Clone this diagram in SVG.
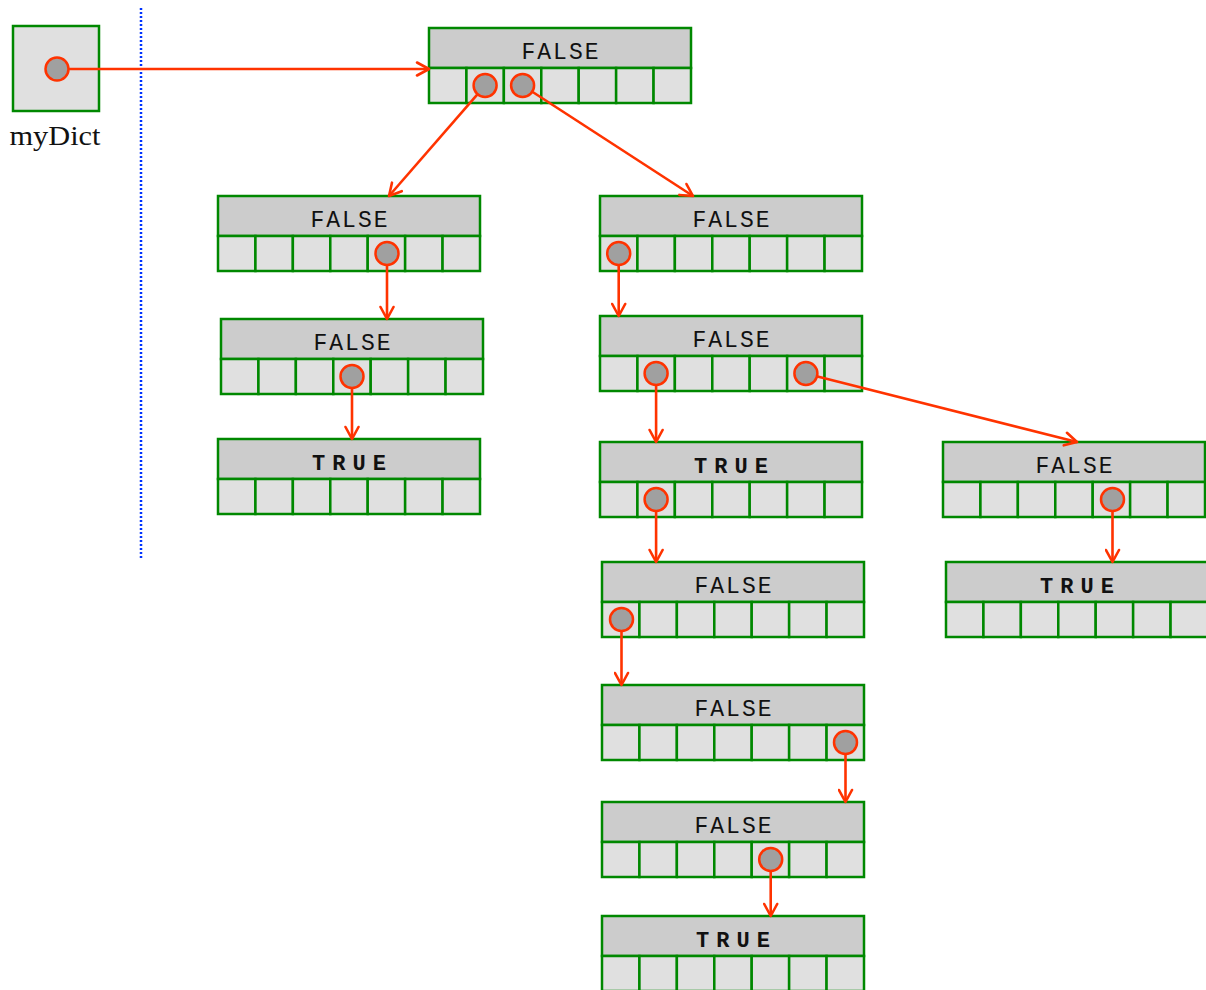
<svg xmlns="http://www.w3.org/2000/svg" xmlns:xlink="http://www.w3.org/1999/xlink" width="1206" height="990" viewBox="0 0 1206 990">
<style>
.hd{fill:#cccccc;stroke:#008800;stroke-width:2.5}
.cl{fill:#e0e0e0;stroke:#008800;stroke-width:2.5}
.pt{fill:#a0a0a0;stroke:#ff3300;stroke-width:2.5}
.f{font-family:"Liberation Mono","DejaVu Sans Mono",monospace;font-size:23px;letter-spacing:2px;fill:#111;text-anchor:middle}
.t{font-family:"Liberation Mono","DejaVu Sans Mono",monospace;font-size:22px;font-weight:bold;letter-spacing:7px;fill:#111;text-anchor:middle}
.lbl{font-family:"Liberation Serif","DejaVu Serif",serif;font-size:27px;fill:#111;text-anchor:middle}
.cn{fill:none;stroke:#ff3300;stroke-width:2.6;marker-end:url(#ah)}
</style>
<defs>
<marker id="ah" viewBox="-14 -8 16 16" refX="0" refY="0" markerWidth="16" markerHeight="16" markerUnits="userSpaceOnUse" orient="auto">
<path d="M-12,-6.5 L0,0 L-12,6.5" fill="none" stroke="#ff3300" stroke-width="2.6" stroke-linecap="round" stroke-linejoin="round"/>
</marker>
<g id="box">
<rect class="hd" x="0" y="0" width="262" height="40"/>
<rect class="cl" x="0" y="40" width="37.43" height="35"/>
<rect class="cl" x="37.43" y="40" width="37.43" height="35"/>
<rect class="cl" x="74.86" y="40" width="37.43" height="35"/>
<rect class="cl" x="112.29" y="40" width="37.43" height="35"/>
<rect class="cl" x="149.71" y="40" width="37.43" height="35"/>
<rect class="cl" x="187.14" y="40" width="37.43" height="35"/>
<rect class="cl" x="224.57" y="40" width="37.43" height="35"/>
</g>
</defs>
<rect width="1206" height="990" fill="#ffffff"/>

<g id="myDict">
<rect class="cl" x="13" y="26" width="86" height="85"/>
<circle class="pt" cx="57" cy="69" r="11.5"/>
<text class="lbl" x="55" y="145" textLength="91" lengthAdjust="spacingAndGlyphs">myDict</text>
</g>

<line id="divider" x1="141" y1="8" x2="141" y2="560" stroke="#0033ff" stroke-width="2.5" stroke-dasharray="2 2"/>

<g id="n0" transform="translate(429,28)"><use xlink:href="#box"/><text class="f" x="132" y="31">FALSE</text><circle class="pt" cx="56.1" cy="57.5" r="11.5"/><circle class="pt" cx="93.6" cy="57.5" r="11.5"/></g>
<g id="n1" transform="translate(218,196)"><use xlink:href="#box"/><text class="f" x="132" y="31">FALSE</text><circle class="pt" cx="169" cy="57.5" r="11.5"/></g>
<g id="n2" transform="translate(221,319)"><use xlink:href="#box"/><text class="f" x="132" y="31">FALSE</text><circle class="pt" cx="131" cy="57.5" r="11.5"/></g>
<g id="n3" transform="translate(218,439)"><use xlink:href="#box"/><text class="t" x="134.5" y="31">TRUE</text></g>
<g id="n4" transform="translate(600,196)"><use xlink:href="#box"/><text class="f" x="132" y="31">FALSE</text><circle class="pt" cx="18.7" cy="57.5" r="11.5"/></g>
<g id="n5" transform="translate(600,316)"><use xlink:href="#box"/><text class="f" x="132" y="31">FALSE</text><circle class="pt" cx="56.1" cy="57.5" r="11.5"/><circle class="pt" cx="205.9" cy="57.5" r="11.5"/></g>
<g id="n6" transform="translate(600,442)"><use xlink:href="#box"/><text class="t" x="134.5" y="31">TRUE</text><circle class="pt" cx="56.1" cy="57.5" r="11.5"/></g>
<g id="n7" transform="translate(943,442)"><use xlink:href="#box"/><text class="f" x="132" y="31">FALSE</text><circle class="pt" cx="169.5" cy="57.5" r="11.5"/></g>
<g id="n8" transform="translate(946,562)"><use xlink:href="#box"/><text class="t" x="134.5" y="31">TRUE</text></g>
<g id="n9" transform="translate(602,562)"><use xlink:href="#box"/><text class="f" x="132" y="31">FALSE</text><circle class="pt" cx="19.5" cy="57.5" r="11.5"/></g>
<g id="n10" transform="translate(602,685)"><use xlink:href="#box"/><text class="f" x="132" y="31">FALSE</text><circle class="pt" cx="243.5" cy="57.5" r="11.5"/></g>
<g id="n11" transform="translate(602,802)"><use xlink:href="#box"/><text class="f" x="132" y="31">FALSE</text><circle class="pt" cx="168.7" cy="57.5" r="11.5"/></g>
<g id="n12" transform="translate(602,916)"><use xlink:href="#box"/><text class="t" x="134.5" y="31">TRUE</text></g>

<g id="connectors">
<line class="cn" x1="69" y1="69" x2="429" y2="69"/>
<line class="cn" x1="477.2" y1="94.6" x2="389" y2="196"/>
<line class="cn" x1="532.7" y1="92" x2="693" y2="196"/>
<line class="cn" x1="387" y1="265.5" x2="387" y2="319"/>
<line class="cn" x1="352" y1="388.5" x2="352" y2="439"/>
<line class="cn" x1="618.7" y1="265.5" x2="618.7" y2="316"/>
<line class="cn" x1="656.1" y1="385.5" x2="656.1" y2="442"/>
<line class="cn" x1="817.5" y1="376.4" x2="1077" y2="442"/>
<line class="cn" x1="656.1" y1="511.5" x2="656.1" y2="562"/>
<line class="cn" x1="1112.5" y1="511.5" x2="1112.5" y2="562"/>
<line class="cn" x1="621.5" y1="631.5" x2="621.5" y2="685"/>
<line class="cn" x1="845.5" y1="754.5" x2="845.5" y2="802"/>
<line class="cn" x1="770.7" y1="871.5" x2="770.7" y2="916"/>
</g>
</svg>
